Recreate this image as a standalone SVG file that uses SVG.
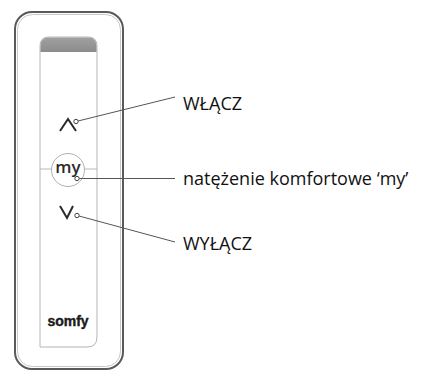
<svg xmlns="http://www.w3.org/2000/svg" width="424" height="372" viewBox="0 0 424 372">
  <defs>
    <style>
      .body { fill: #ffffff; stroke: #5a5a5a; stroke-width: 2; }
      .panel { fill: #ffffff; stroke: #b4b4b4; stroke-width: 1; }
      .chev { fill: none; stroke: #2a2a2a; stroke-width: 2; stroke-linejoin: miter; }
      .dot { fill: #ffffff; stroke: #444444; stroke-width: 1; }
      .lead { fill: none; stroke: #555555; stroke-width: 1; }
      .label { font-family: "Open Sans", "Liberation Sans", sans-serif; font-size: 18px; fill: #111111; }
      .sep { stroke: #b8b8b8; stroke-width: 1; }
    </style>
    <linearGradient id="display" x1="0" y1="0" x2="0" y2="1">
      <stop offset="0" stop-color="#a0a0a0"/>
      <stop offset="1" stop-color="#8c8c8c"/>
    </linearGradient>
  </defs>

  <!-- remote control body -->
  <g id="remote">
    <rect class="body" x="15" y="12" width="108" height="357" rx="17" ry="17"/>
    <rect x="17.5" y="14.5" width="103" height="352" rx="15" ry="15" fill="none" stroke="#c8c8c8" stroke-width="1"/>
    <!-- front panel -->
    <path class="panel" d="M40,347 L40,46 Q40,37 49,37 L88,37 Q97,37 97,46 L97,337 Q97,347 87,347 Z"/>
    <!-- display window -->
    <path d="M40.5,52 L40.5,46 Q40.5,37.5 49,37.5 L88,37.5 Q96.5,37.5 96.5,46 L96.5,52 Z" fill="url(#display)"/>
    <!-- separators beside the my button -->
    <line class="sep" x1="40" y1="169" x2="52" y2="169"/>
    <line class="sep" x1="85" y1="169" x2="97" y2="169"/>
    <!-- brand -->
    <text x="68" y="326" text-anchor="middle" font-family="'Liberation Sans', Arial, sans-serif" font-weight="bold" font-size="14" fill="#1a1a1a" stroke="#1a1a1a" stroke-width="0.4">somfy</text>
  </g>

  <!-- up button -->
  <g id="btn-up">
    <polyline class="chev" points="60,131 68,119 76,131"/>
    <circle class="dot" cx="76" cy="121.5" r="2.2"/>
  </g>

  <!-- my button -->
  <g id="btn-my">
    <circle cx="68" cy="170" r="16.5" fill="#ffffff" stroke="#b0b0b0" stroke-width="1"/>
    <text x="68" y="173" text-anchor="middle" font-family="'Open Sans', 'Liberation Sans', sans-serif" font-weight="600" font-size="17" fill="#2a2a2a">my</text>
    <circle class="dot" cx="77" cy="178.5" r="2.2"/>
  </g>

  <!-- down button -->
  <g id="btn-down">
    <polyline class="chev" points="60,206 67,218 73,206"/>
    <circle class="dot" cx="77" cy="215.5" r="2.2"/>
  </g>

  <!-- leader lines -->
  <g id="connectors">
    <line class="lead" x1="78" y1="121" x2="175" y2="97"/>
    <line class="lead" x1="79.2" y1="178.5" x2="175" y2="178.5"/>
    <line class="lead" x1="79" y1="216" x2="175" y2="242"/>
  </g>

  <!-- labels -->
  <g id="label-on">
    <text class="label" x="183" y="110">WŁĄCZ</text>
  </g>
  <g id="label-my">
    <text class="label" x="183" y="184.5">natężenie komfortowe ‘my’</text>
  </g>
  <g id="label-off">
    <text class="label" x="183" y="250">WYŁĄCZ</text>
  </g>
</svg>
